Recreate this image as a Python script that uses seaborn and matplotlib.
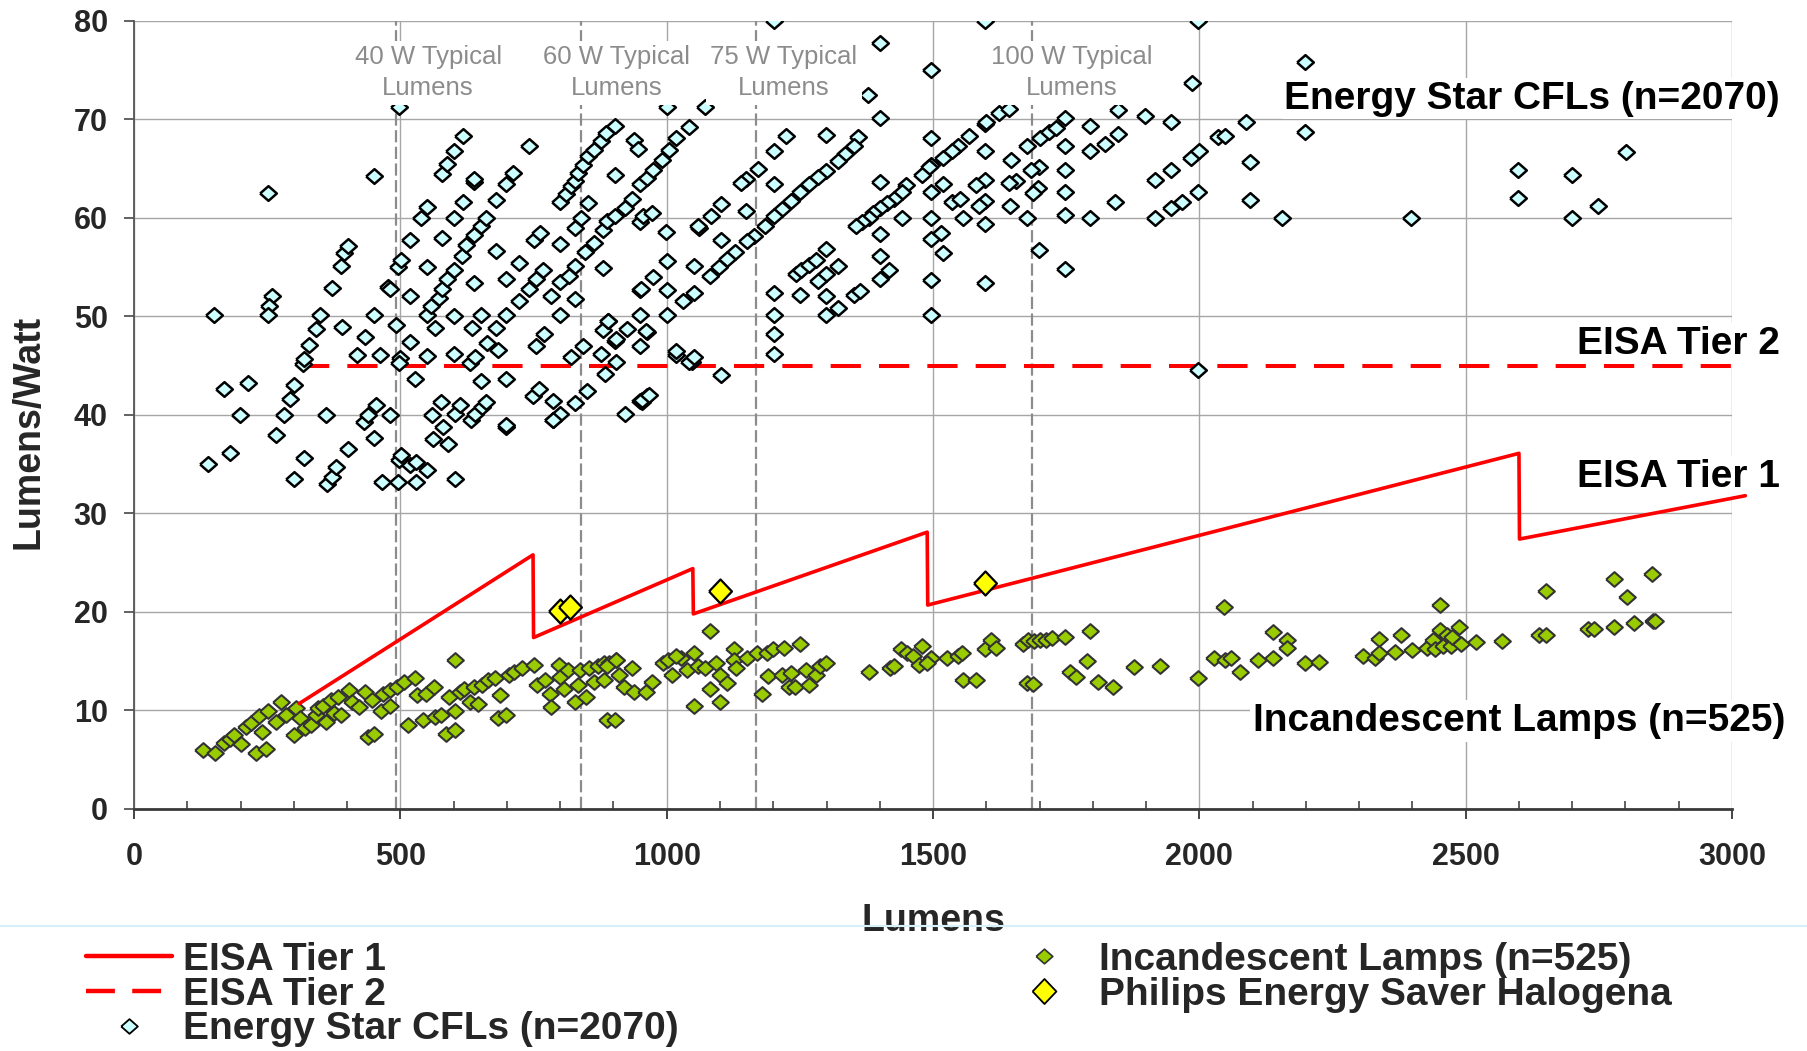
import matplotlib
matplotlib.use("Agg")
import matplotlib.pyplot as plt
from matplotlib.lines import Line2D
from matplotlib.ticker import MultipleLocator
import pandas as pd
import seaborn as sns

# (lumens, lumens per watt)
cfl_points = [
    (150, 50.1), (251, 62.5), (258, 52.1), (254, 51.1), (251, 50.1), (168, 42.6), (214, 43.2), (199, 40.0),
    (266, 38.0), (281, 40.0), (293, 41.6), (301, 43.0), (317, 45.2), (319, 45.7), (329, 47.1), (342, 48.7),
    (349, 50.1), (360, 40.0), (371, 52.9), (388, 55.1), (394, 56.4), (402, 57.2), (390, 48.9), (418, 46.1),
    (433, 47.9), (451, 64.3), (451, 50.1), (462, 46.1), (477, 53.0), (481, 52.8), (492, 49.1), (496, 55.0),
    (502, 55.7), (500, 45.8), (497, 45.3), (518, 57.8), (518, 52.1), (518, 47.4), (527, 43.6), (539, 60.0),
    (550, 61.1), (550, 55.0), (550, 50.1), (550, 46.0), (558, 51.1), (565, 48.8), (572, 51.9), (578, 52.8),
    (579, 58.0), (579, 64.5), (588, 65.5), (601, 66.8), (617, 68.3), (601, 60.0), (617, 61.6), (601, 50.0),
    (601, 46.2), (588, 53.8), (601, 54.7), (615, 56.1), (624, 57.3), (638, 58.3), (651, 59.2), (661, 60.0),
    (638, 63.6), (638, 64.0), (638, 53.4), (651, 50.1), (635, 48.8), (630, 45.3), (640, 45.9), (651, 43.4),
    (663, 47.3), (680, 61.8), (680, 56.6), (680, 48.8), (699, 63.4), (712, 64.6), (699, 53.8), (722, 55.4),
    (699, 50.1), (683, 46.6), (699, 43.6), (699, 38.8), (741, 67.3), (751, 57.8), (762, 58.5), (722, 51.6),
    (741, 52.8), (754, 53.8), (768, 54.7), (783, 52.1), (770, 48.2), (754, 47.0), (749, 41.9), (760, 42.6),
    (786, 41.4), (786, 39.5), (800, 40.1), (800, 61.6), (810, 62.4), (821, 63.2), (827, 63.7), (833, 64.6),
    (842, 65.4), (852, 66.3), (863, 66.9), (876, 67.8), (886, 68.6), (902, 69.3), (902, 64.4), (800, 57.4),
    (800, 53.5), (800, 50.1), (827, 59.0), (840, 60.0), (852, 61.5), (846, 56.5), (827, 55.1), (816, 54.1),
    (827, 51.8), (821, 45.9), (842, 47.0), (851, 42.4), (827, 41.2), (863, 57.5), (880, 58.8), (888, 59.7),
    (902, 60.2), (921, 61.0), (934, 61.9), (880, 54.9), (880, 48.6), (890, 49.5), (877, 46.2), (884, 44.2),
    (902, 47.5), (905, 45.4), (921, 40.1), (925, 48.7), (938, 67.9), (946, 67.0), (950, 63.4), (963, 64.1),
    (950, 59.6), (956, 60.2), (972, 60.5), (950, 52.7), (974, 54.0), (950, 50.1), (950, 47.0), (963, 48.4),
    (950, 41.4), (963, 41.9), (975, 64.9), (991, 65.9), (1004, 66.9), (1018, 68.1), (1042, 69.2), (999, 58.6),
    (1001, 55.6), (1001, 52.7), (1001, 50.1), (1031, 51.6), (1052, 52.4), (1052, 55.1), (1060, 59.0),
    (1018, 46.1), (1048, 45.4), (1001, 71.3), (497, 71.3),
    (138, 35.0), (180, 36.1), (300, 33.5), (319, 35.6), (363, 33.0), (371, 33.7), (380, 34.7), (402, 36.5),
    (432, 39.3), (440, 40.0), (451, 37.7), (455, 41.0), (481, 40.0), (466, 33.2), (496, 33.2), (498, 35.4),
    (502, 35.9), (518, 34.9), (529, 35.2), (529, 33.2), (550, 34.4), (559, 40.0), (561, 37.6), (577, 41.3),
    (580, 38.8), (590, 37.1), (602, 40.1), (602, 33.5), (612, 41.0), (632, 39.5), (640, 40.1), (653, 40.8),
    (661, 41.3), (699, 39.0), (787, 39.5), (953, 41.3),
    (1202, 80.0), (1597, 80.0), (1997, 80.0), (1400, 77.8), (1497, 75.0), (1987, 73.7), (1378, 72.5),
    (1400, 70.1), (1071, 71.3), (1624, 70.7), (1642, 71.1), (1747, 70.1), (1847, 71.0), (1897, 70.3),
    (1946, 69.7), (1795, 69.3), (1847, 68.5), (1822, 67.5), (1795, 66.8), (1747, 67.3), (1747, 64.9),
    (1747, 62.6), (1747, 60.3), (1795, 60.0), (1841, 61.6), (1916, 63.9), (1946, 64.9), (1985, 66.1),
    (1999, 66.8), (2035, 68.2), (2048, 68.3), (2088, 69.7), (2096, 65.7), (2096, 61.8), (2155, 60.0),
    (1916, 60.0), (1946, 61.0), (1968, 61.6), (1997, 62.6), (1998, 44.6), (1701, 68.1), (1718, 68.7),
    (1730, 69.1), (1676, 67.3), (1647, 65.9), (1699, 65.2), (1684, 64.9), (1655, 63.7), (1642, 63.5),
    (1697, 63.0), (1687, 62.5), (1645, 61.2), (1676, 60.0), (1699, 56.7), (1747, 54.8), (1597, 69.5),
    (1600, 69.7), (1568, 68.3), (1547, 67.3), (1535, 66.8), (1518, 66.1), (1497, 68.1), (1497, 65.4),
    (1492, 65.2), (1480, 64.4), (1597, 66.8), (1597, 63.9), (1580, 63.3), (1597, 61.7), (1587, 61.2),
    (1597, 59.4), (1557, 60.0), (1535, 61.6), (1550, 61.9), (1519, 63.4), (1497, 62.6), (1497, 60.0),
    (1497, 57.9), (1515, 58.5), (1519, 56.4), (1497, 53.7), (1597, 53.4), (1497, 50.1), (1449, 63.3),
    (1441, 62.6), (1426, 61.9), (1413, 61.5), (1400, 61.0), (1388, 60.5), (1380, 60.0), (1367, 59.6),
    (1356, 59.2), (1400, 63.6), (1441, 60.0), (1400, 58.4), (1400, 56.1), (1418, 54.7), (1400, 53.8),
    (1359, 68.2), (1351, 67.3), (1334, 66.5), (1322, 65.8), (1299, 68.4), (1299, 64.8), (1284, 64.2),
    (1267, 63.4), (1251, 62.6), (1234, 61.7), (1217, 60.9), (1202, 60.2), (1184, 59.2), (1163, 58.2),
    (1150, 57.7), (1129, 56.5), (1113, 55.8), (1098, 55.0), (1082, 54.1), (1202, 66.8), (1224, 68.3),
    (1171, 65.0), (1148, 64.0), (1139, 63.5), (1202, 63.4), (1101, 61.4), (1084, 60.2), (1058, 59.2),
    (1149, 60.7), (1101, 57.8), (952, 52.8), (904, 47.7), (889, 49.5), (962, 48.5), (1018, 46.5),
    (1041, 45.4), (1052, 45.9), (1101, 44.1), (954, 41.5), (967, 42.0), (1202, 52.4), (1202, 50.1),
    (1202, 48.2), (1202, 46.2), (1251, 52.2), (1243, 54.3), (1253, 54.7), (1268, 55.2), (1280, 55.7),
    (1299, 56.8), (1299, 54.3), (1284, 53.6), (1322, 55.1), (1299, 52.1), (1322, 50.9), (1299, 50.1),
    (1351, 52.2), (1362, 52.6),
    (2198, 75.8), (2198, 68.7), (2397, 60.0), (2598, 64.9), (2598, 62.0), (2700, 64.4), (2700, 60.0),
    (2749, 61.2), (2801, 66.7),
]

incandescent_points = [
    (129, 5.95), (151, 5.7), (168, 6.7), (180, 7.1), (188, 7.5), (200, 6.6), (210, 8.3), (220, 8.7),
    (229, 5.7), (235, 9.4), (241, 7.8), (247, 6.1), (252, 9.9), (266, 8.8), (275, 10.9), (286, 9.5),
    (300, 7.55), (304, 10.2), (311, 9.2), (321, 8.2), (332, 8.5), (342, 9.5), (345, 10.2), (355, 10.5),
    (361, 8.8), (370, 11.05), (376, 9.7), (382, 11.4), (388, 9.5), (403, 12.1), (409, 10.9), (422, 10.4),
    (434, 11.9), (440, 7.3), (451, 7.65), (447, 11.05), (464, 9.9), (468, 11.7), (481, 10.5), (481, 12.1),
    (493, 12.4), (506, 12.9), (514, 8.5), (527, 13.3), (531, 11.6), (542, 9.0), (548, 11.7), (563, 12.4),
    (565, 9.35), (577, 9.5), (586, 7.65), (592, 11.4), (602, 15.1), (602, 8.0), (602, 9.9), (611, 11.9),
    (619, 12.2), (630, 10.9), (639, 12.4), (645, 10.7), (653, 12.6), (664, 13.1), (678, 13.3), (684, 9.2),
    (687, 11.6), (699, 9.5), (703, 13.6), (714, 13.9), (729, 14.3), (751, 14.6), (756, 12.6), (771, 13.1),
    (781, 11.7), (783, 10.4), (798, 14.6), (800, 13.4), (807, 12.2), (815, 14.1), (827, 10.9), (833, 12.6),
    (838, 14.1), (849, 11.4), (855, 14.3), (863, 12.9), (871, 14.5), (882, 14.8), (882, 13.1), (888, 9.0),
    (892, 14.8), (902, 9.0), (905, 15.1), (911, 13.6), (919, 12.4), (934, 14.3), (938, 11.9), (962, 11.9),
    (972, 12.9), (993, 14.8), (1002, 15.1), (1010, 13.6), (1027, 15.3), (1039, 14.1), (1052, 10.5),
    (1052, 15.8), (887, 14.5), (904, 15.1), (1017, 15.5),
    (1058, 14.5), (1071, 14.3), (1082, 18.1), (1082, 12.2), (1092, 14.8), (1100, 13.6), (1100, 10.9),
    (1113, 12.8), (1127, 16.2), (1127, 15.1), (1131, 14.3), (1150, 15.3), (1169, 15.8), (1178, 11.7),
    (1188, 15.8), (1190, 13.5), (1200, 16.2), (1217, 13.6), (1221, 16.3), (1234, 13.8), (1230, 12.4),
    (1240, 12.4), (1250, 16.7), (1261, 14.1), (1267, 12.6), (1280, 13.6), (1288, 14.5), (1299, 14.8),
    (1380, 13.9), (1420, 14.3), (1426, 14.5), (1440, 16.2), (1451, 15.8), (1463, 15.5), (1480, 16.5),
    (1473, 14.6), (1497, 15.3), (1488, 14.8), (1526, 15.3), (1547, 15.5), (1555, 15.8), (1557, 13.1),
    (1580, 13.1), (1597, 16.2), (1609, 17.2), (1618, 16.3), (1668, 16.7), (1678, 17.2), (1690, 17.0),
    (1701, 17.2), (1712, 17.2), (1724, 17.4), (1747, 17.5), (1676, 12.8), (1687, 12.7), (1757, 13.9),
    (1768, 13.4), (1789, 15.0), (1795, 18.1), (1810, 12.9), (1837, 12.4), (1878, 14.4), (1927, 14.5),
    (1997, 13.3), (2027, 15.3), (2046, 20.5), (2048, 15.1), (2060, 15.3), (2077, 13.9), (2110, 15.1),
    (2138, 18.0), (2139, 15.3), (2164, 17.2), (2164, 16.3),
    (2198, 14.8), (2224, 14.9), (2308, 15.5), (2329, 15.3), (2338, 17.3), (2338, 15.8), (2368, 15.9),
    (2379, 17.7), (2399, 16.1), (2428, 16.3), (2439, 17.2), (2442, 16.2), (2451, 20.7), (2451, 18.2),
    (2457, 16.5), (2464, 17.7), (2472, 16.5), (2474, 17.5), (2488, 18.5), (2491, 16.7), (2519, 16.9),
    (2568, 17.1), (2638, 17.7), (2650, 17.7), (2650, 22.1), (2729, 18.3), (2741, 18.3), (2778, 23.3),
    (2778, 18.5), (2802, 21.5), (2816, 18.9), (2849, 23.9), (2851, 19.1), (2856, 19.1),
]

philips_lumens = [800, 819, 1100, 1597]
philips_lpw = [20.1, 20.5, 22.1, 22.9]

tier1_lumens = [310, 749, 750, 1049, 1050, 1489, 1490, 2600, 2601, 3025]
tier1_lpw = [10.7, 25.8, 17.4, 24.4, 19.8, 28.1, 20.7, 36.1, 27.4, 31.8]

tier2_lumens = [310, 3000]
tier2_lpw = [45, 45]

typical_lumens = [491, 840, 1167, 1685]
typical_names = ["40 W Typical\nLumens", "60 W Typical\nLumens", "75 W Typical\nLumens", "100 W Typical\nLumens"]
typical_label_x = [552, 906, 1220, 1760]

cfl = pd.DataFrame(cfl_points, columns=["lumens", "lpw"])
inc = pd.DataFrame(incandescent_points, columns=["lumens", "lpw"])
phil = pd.DataFrame({"lumens": philips_lumens, "lpw": philips_lpw})

sns.set_theme(style="white")
plt.rcParams["font.family"] = ["Liberation Sans", "DejaVu Sans"]
plt.rcParams["font.weight"] = "bold"

DIAMOND = [(-1, 0), (0, 0.88), (1, 0), (0, -0.88), (-1, 0)]
BIG_DIAMOND = [(-1, 0), (0, 1.05), (1, 0), (0, -1.05), (-1, 0)]
RED = "#ff0000"

fig = plt.figure(figsize=(18.07, 10.51), dpi=100)
ax = fig.add_axes([0.0742, 0.2303, 0.8843, 0.7498])

for xv in typical_lumens:
    ax.axvline(xv, color="#8c8c8c", lw=1.6, ls=(0, (5.5, 2)), zorder=1)

sns.lineplot(x=tier2_lumens, y=tier2_lpw, color=RED, lw=2.9, linestyle=(0, (7.5, 4.5)),
             estimator=None, sort=False, zorder=2, ax=ax)
sns.scatterplot(data=cfl, x="lumens", y="lpw", marker=DIAMOND, s=145, color="#ccffff",
                edgecolor="black", linewidth=1.8, zorder=3, ax=ax)
sns.scatterplot(data=inc, x="lumens", y="lpw", marker=DIAMOND, s=145, color="#99cc00",
                edgecolor="#333333", linewidth=1.5, zorder=3, ax=ax)
sns.lineplot(x=tier1_lumens, y=tier1_lpw, color=RED, lw=2.6, estimator=None, sort=False,
             clip_on=False, zorder=6, ax=ax)
sns.scatterplot(data=phil, x="lumens", y="lpw", marker=BIG_DIAMOND, s=300, color="#ffff00",
                edgecolor="black", linewidth=1.6, zorder=7, ax=ax)

for xv, name in zip(typical_label_x, typical_names):
    ax.text(xv, 74.75, name, ha="center", va="center", fontsize=18.5, fontweight="normal",
            color="#8c8c8c", linespacing=1.4, zorder=5,
            bbox=dict(facecolor="white", edgecolor="none", pad=3))

right_labels = [
    ("Energy Star CFLs (n=2070)", 3090, 72.1),
    ("EISA Tier 2", 3090, 47.25),
    ("EISA Tier 1", 3090, 33.7),
    ("Incandescent Lamps (n=525)", 3100, 8.95),
]
for txt, xv, yv in right_labels:
    ax.text(xv, yv, txt, ha="right", va="center", fontsize=28, fontweight="bold",
            color="black", zorder=5, bbox=dict(facecolor="white", edgecolor="none", pad=2))

ax.set_xlim(0, 3000)
ax.set_ylim(0, 80)
ax.set_xticks(range(0, 3001, 500))
ax.set_yticks(range(0, 81, 10))
ax.xaxis.set_minor_locator(MultipleLocator(100))
ax.grid(True, which="major", color="#a6a6a6", lw=1.0)
ax.set_axisbelow(True)

for side in ("top", "right"):
    ax.spines[side].set_visible(False)
ax.spines["left"].set_color("#555555")
ax.spines["left"].set_linewidth(1.3)
ax.spines["bottom"].set_color("#3a3a3a")
ax.spines["bottom"].set_linewidth(2.0)

ax.tick_params(axis="x", which="major", direction="out", length=7, width=1.4, color="#444444",
               labelsize=22, pad=17, bottom=True)
ax.tick_params(axis="x", which="minor", direction="in", length=6, width=1.2, color="#444444", bottom=True)
ax.tick_params(axis="y", which="major", direction="out", length=7, width=1.3, color="#555555",
               labelsize=22, pad=12, left=True)

ax.set_xlabel("Lumens", fontsize=27, fontweight="bold", labelpad=22)
ax.set_ylabel("Lumens/Watt", fontsize=27, fontweight="bold")
ax.yaxis.set_label_coords(-0.055, 0.478)

fig.add_artist(Line2D([0, 1], [0.119, 0.119], transform=fig.transFigure, color="#d8f0fa", lw=1.5))

handles = [
    Line2D([], [], color=RED, lw=3.2, label="EISA Tier 1"),
    Line2D([], [], color=RED, lw=3.2, ls=(0, (6.5, 3.9)), label="EISA Tier 2"),
    Line2D([], [], ls="none", marker=DIAMOND, markersize=12, mfc="#ccffff", mec="black", mew=1.3,
           label="Energy Star CFLs (n=2070)"),
    Line2D([], [], ls="none", marker=DIAMOND, markersize=12, mfc="#99cc00", mec="#333333", mew=1.2,
           label="Incandescent Lamps (n=525)"),
    Line2D([], [], ls="none", marker=BIG_DIAMOND, markersize=18, mfc="#ffff00", mec="black", mew=1.3,
           label="Philips Energy Saver Halogena"),
]
fig.legend(handles=handles, loc="upper left", bbox_to_anchor=(0.0476, 0.104), ncol=2, frameon=False,
           prop={"size": 28, "weight": "bold"}, handlelength=2.2, handletextpad=0.3,
           columnspacing=8.3, labelspacing=-0.03, borderpad=0, borderaxespad=0)

fig.savefig("out.png", dpi=100)
plt.close(fig)
